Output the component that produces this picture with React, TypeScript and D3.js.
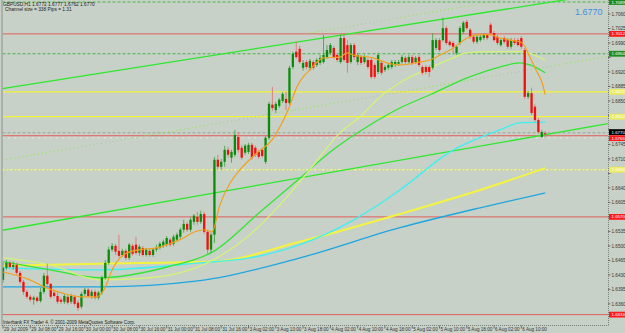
import React, { useEffect, useRef } from 'react';
import * as d3 from 'd3';

const W = 625;
const H = 333;

// GBPUSD H1 bars, [open, high, low, close]
const candles: number[][] = [
  [1.6418, 1.6459, 1.6411, 1.6447], [1.6447, 1.6466, 1.6442, 1.6459], [1.6459, 1.6464, 1.6445, 1.6449],
  [1.6449, 1.6462, 1.6442, 1.6454], [1.6454, 1.6459, 1.6430, 1.6435], [1.6435, 1.6440, 1.6408, 1.6413],
  [1.6413, 1.6418, 1.6382, 1.6389], [1.6389, 1.6394, 1.6372, 1.6377], [1.6377, 1.6382, 1.6365, 1.6370],
  [1.6370, 1.6379, 1.6358, 1.6375], [1.6375, 1.6379, 1.6363, 1.6367], [1.6367, 1.6399, 1.6363, 1.6389],
  [1.6389, 1.6435, 1.6384, 1.6428], [1.6428, 1.6457, 1.6404, 1.6408], [1.6408, 1.6411, 1.6372, 1.6377],
  [1.6387, 1.6394, 1.6375, 1.6379], [1.6379, 1.6389, 1.6360, 1.6365], [1.6370, 1.6375, 1.6360, 1.6365],
  [1.6365, 1.6384, 1.6360, 1.6379], [1.6377, 1.6382, 1.6358, 1.6363], [1.6365, 1.6384, 1.6360, 1.6379],
  [1.6377, 1.6382, 1.6355, 1.6360], [1.6363, 1.6370, 1.6343, 1.6350], [1.6353, 1.6389, 1.6348, 1.6384],
  [1.6384, 1.6399, 1.6379, 1.6394], [1.6394, 1.6399, 1.6375, 1.6379], [1.6379, 1.6394, 1.6372, 1.6389],
  [1.6389, 1.6394, 1.6370, 1.6375], [1.6375, 1.6391, 1.6370, 1.6387], [1.6387, 1.6428, 1.6382, 1.6423],
  [1.6423, 1.6466, 1.6418, 1.6459], [1.6459, 1.6498, 1.6454, 1.6491], [1.6491, 1.6507, 1.6486, 1.6500],
  [1.6500, 1.6505, 1.6478, 1.6486], [1.6488, 1.6527, 1.6471, 1.6476], [1.6478, 1.6493, 1.6474, 1.6488],
  [1.6488, 1.6493, 1.6466, 1.6471], [1.6471, 1.6507, 1.6466, 1.6503], [1.6500, 1.6505, 1.6476, 1.6481],
  [1.6503, 1.6522, 1.6478, 1.6483], [1.6483, 1.6503, 1.6476, 1.6498], [1.6495, 1.6500, 1.6474, 1.6478],
  [1.6478, 1.6495, 1.6474, 1.6491], [1.6488, 1.6493, 1.6474, 1.6478], [1.6478, 1.6495, 1.6474, 1.6491],
  [1.6491, 1.6503, 1.6486, 1.6495], [1.6495, 1.6510, 1.6491, 1.6505], [1.6500, 1.6515, 1.6495, 1.6510],
  [1.6503, 1.6524, 1.6498, 1.6519], [1.6515, 1.6519, 1.6498, 1.6503], [1.6505, 1.6527, 1.6500, 1.6522],
  [1.6515, 1.6532, 1.6510, 1.6527], [1.6522, 1.6544, 1.6517, 1.6539], [1.6539, 1.6563, 1.6532, 1.6553],
  [1.6553, 1.6558, 1.6534, 1.6539], [1.6539, 1.6568, 1.6534, 1.6563], [1.6558, 1.6577, 1.6551, 1.6573],
  [1.6570, 1.6582, 1.6551, 1.6558], [1.6558, 1.6585, 1.6553, 1.6577], [1.6577, 1.6582, 1.6529, 1.6534],
  [1.6534, 1.6539, 1.6481, 1.6491], [1.6491, 1.6532, 1.6483, 1.6527], [1.6527, 1.6715, 1.6507, 1.6708],
  [1.6708, 1.6720, 1.6684, 1.6691], [1.6691, 1.6710, 1.6684, 1.6703], [1.6703, 1.6742, 1.6691, 1.6732],
  [1.6732, 1.6739, 1.6713, 1.6720], [1.6713, 1.6732, 1.6701, 1.6727], [1.6720, 1.6780, 1.6715, 1.6768],
  [1.6763, 1.6775, 1.6725, 1.6732], [1.6737, 1.6744, 1.6708, 1.6713], [1.6725, 1.6746, 1.6720, 1.6742],
  [1.6727, 1.6749, 1.6722, 1.6744], [1.6744, 1.6749, 1.6708, 1.6713], [1.6737, 1.6742, 1.6715, 1.6720],
  [1.6727, 1.6732, 1.6710, 1.6715], [1.6732, 1.6737, 1.6713, 1.6717], [1.6703, 1.6766, 1.6698, 1.6761],
  [1.6761, 1.6848, 1.6756, 1.6843], [1.6841, 1.6884, 1.6826, 1.6833], [1.6828, 1.6848, 1.6821, 1.6843],
  [1.6838, 1.6857, 1.6833, 1.6853], [1.6850, 1.6872, 1.6845, 1.6867], [1.6855, 1.6872, 1.6828, 1.6845],
  [1.6845, 1.6935, 1.6841, 1.6930], [1.6932, 1.6969, 1.6927, 1.6964], [1.6969, 1.6993, 1.6952, 1.6956],
  [1.6976, 1.6983, 1.6940, 1.6944], [1.6930, 1.6949, 1.6923, 1.6942], [1.6944, 1.6949, 1.6927, 1.6932],
  [1.6930, 1.6952, 1.6923, 1.6947], [1.6944, 1.6949, 1.6925, 1.6930], [1.6937, 1.6954, 1.6932, 1.6949],
  [1.6942, 1.6961, 1.6937, 1.6954], [1.6944, 1.7010, 1.6940, 1.6961], [1.6956, 1.6985, 1.6952, 1.6973],
  [1.6966, 1.6990, 1.6961, 1.6985], [1.6978, 1.6983, 1.6952, 1.6956], [1.6961, 1.6966, 1.6944, 1.6949],
  [1.6944, 1.7010, 1.6940, 1.7002], [1.7002, 1.7014, 1.6944, 1.6949], [1.6985, 1.6997, 1.6918, 1.6942],
  [1.6944, 1.6990, 1.6940, 1.6985], [1.6985, 1.6990, 1.6949, 1.6956], [1.6944, 1.6966, 1.6937, 1.6961],
  [1.6956, 1.6961, 1.6937, 1.6942], [1.6944, 1.6961, 1.6940, 1.6956], [1.6949, 1.6954, 1.6927, 1.6932],
  [1.6949, 1.6956, 1.6903, 1.6908], [1.6937, 1.6942, 1.6903, 1.6908], [1.6920, 1.6966, 1.6915, 1.6961],
  [1.6942, 1.6947, 1.6913, 1.6918], [1.6925, 1.6937, 1.6920, 1.6932], [1.6930, 1.6942, 1.6925, 1.6937],
  [1.6932, 1.6949, 1.6927, 1.6944], [1.6937, 1.6949, 1.6932, 1.6944], [1.6940, 1.6949, 1.6935, 1.6944],
  [1.6944, 1.6961, 1.6940, 1.6956], [1.6954, 1.6959, 1.6940, 1.6944], [1.6944, 1.6961, 1.6940, 1.6956],
  [1.6956, 1.6961, 1.6937, 1.6942], [1.6944, 1.6959, 1.6940, 1.6954], [1.6956, 1.6961, 1.6932, 1.6937],
  [1.6932, 1.6937, 1.6913, 1.6918], [1.6932, 1.6937, 1.6915, 1.6920], [1.6932, 1.6937, 1.6908, 1.6920],
  [1.6930, 1.7014, 1.6925, 1.6997], [1.6978, 1.7002, 1.6973, 1.6997], [1.6997, 1.7002, 1.6969, 1.6973],
  [1.6997, 1.7051, 1.6993, 1.7026], [1.7026, 1.7031, 1.6985, 1.6990], [1.6993, 1.6997, 1.6981, 1.6985],
  [1.6990, 1.6995, 1.6966, 1.6981], [1.6966, 1.6985, 1.6961, 1.6981], [1.6990, 1.7031, 1.6985, 1.7026],
  [1.7017, 1.7043, 1.7012, 1.7039], [1.7041, 1.7046, 1.7022, 1.7026], [1.7022, 1.7026, 1.7000, 1.7005],
  [1.7005, 1.7010, 1.6988, 1.6993], [1.6993, 1.7010, 1.6988, 1.7005], [1.6997, 1.7010, 1.6993, 1.7005],
  [1.7002, 1.7014, 1.6997, 1.7010], [1.7010, 1.7014, 1.6997, 1.7002], [1.7034, 1.7039, 1.7010, 1.7014],
  [1.7014, 1.7019, 1.6993, 1.6997], [1.7005, 1.7010, 1.6985, 1.6990], [1.6985, 1.7002, 1.6981, 1.6997],
  [1.7002, 1.7007, 1.6988, 1.6993], [1.6997, 1.7002, 1.6976, 1.6981], [1.6981, 1.7002, 1.6976, 1.6997],
  [1.6997, 1.7002, 1.6985, 1.6990], [1.6997, 1.7002, 1.6981, 1.6985], [1.7002, 1.7007, 1.6976, 1.6981],
  [1.6973, 1.6978, 1.6855, 1.6860], [1.6860, 1.6874, 1.6855, 1.6869], [1.6869, 1.6882, 1.6816, 1.6821],
  [1.6836, 1.6841, 1.6799, 1.6804], [1.6804, 1.6809, 1.6771, 1.6775], [1.6763, 1.6780, 1.6761, 1.6775],
  [1.6772, 1.6777, 1.6762, 1.6770],
];

// time axis labels, one every 8 bars
const timeLabels = [
  '29 Jul 2009', '29 Jul 08:00', '29 Jul 16:00', '30 Jul 00:00', '30 Jul 08:00', '30 Jul 16:00',
  '31 Jul 00:00', '31 Jul 08:00', '31 Jul 16:00', '3 Aug 02:00', '3 Aug 10:00', '3 Aug 18:00',
  '4 Aug 02:00', '4 Aug 10:00', '4 Aug 18:00', '5 Aug 02:00', '5 Aug 10:00', '5 Aug 18:00',
  '6 Aug 02:00', '6 Aug 10:00',
];

const priceTicks = [
  1.7060, 1.7025, 1.6990, 1.6955, 1.6920, 1.6885, 1.6850, 1.6815, 1.6780, 1.6745, 1.6710,
  1.6675, 1.6640, 1.6605, 1.6570, 1.6535, 1.6500, 1.6465, 1.6430, 1.6395, 1.6360,
];

// moving averages, [bar, price]
const maOrange = [
  [0, 1.6437], [7.9, 1.6418], [12, 1.6401], [17, 1.6387], [22.9, 1.6377], [27.6, 1.6377], [29.6, 1.6394],
  [32.3, 1.6447], [34.3, 1.6471], [36.4, 1.6483], [40.2, 1.6491], [45.2, 1.6495], [48.1, 1.6503],
  [51.9, 1.6515], [56.3, 1.6534], [59.2, 1.6539], [61.3, 1.6534], [63.6, 1.6599], [66.6, 1.6652],
  [69.5, 1.6684], [74.5, 1.6725], [78.9, 1.6756], [81.2, 1.6787], [83.6, 1.6828], [86.2, 1.6884],
  [88, 1.6908], [90, 1.6925], [92.1, 1.6944], [93.8, 1.6954], [98.8, 1.6956], [100.9, 1.6966],
  [102.6, 1.6961], [108.5, 1.6954], [112.6, 1.6942], [116.4, 1.6937], [122.3, 1.6944], [125.2, 1.6949],
  [128.2, 1.6961], [131.1, 1.6973], [134, 1.6990], [136.1, 1.7002], [139.9, 1.7010], [142.8, 1.7010],
  [145.7, 1.7002], [148.7, 1.6997], [151.6, 1.6993], [153.1, 1.6981], [154.5, 1.6956], [156.6, 1.6920],
  [158.1, 1.6894], [159, 1.6865],
];
const maPale = [
  [0, 1.6471], [13.8, 1.6454], [28.4, 1.6418], [43.1, 1.6423], [61.6, 1.6466], [72.4, 1.6527],
  [81.2, 1.6599], [90, 1.6684], [98.8, 1.6773], [104.7, 1.6812], [110.6, 1.6860], [116.4, 1.6894],
  [125.2, 1.6930], [132, 1.6954], [136.1, 1.6966], [143.7, 1.6969], [151.6, 1.6969], [159, 1.6949],
];
const maGreen = [
  [0, 1.6462], [13.8, 1.6442], [28.4, 1.6423], [48.1, 1.6449], [61.6, 1.6486], [75.4, 1.6582],
  [87.1, 1.6664], [96.8, 1.6732], [107.6, 1.6792], [116.4, 1.6833], [125.2, 1.6865], [136.1, 1.6906],
  [145.7, 1.6932], [151.6, 1.6942], [154.5, 1.6937], [159, 1.6918],
];
const maCyan = [
  [0, 1.6447], [28.4, 1.6442], [57.8, 1.6459], [72.4, 1.6471], [87.1, 1.6503], [101.8, 1.6558],
  [116.4, 1.6635], [131.1, 1.6727], [145.7, 1.6780], [151.6, 1.6797], [159, 1.6799],
];
const maYellow = [
  [0, 1.6452], [28.4, 1.6457], [61.6, 1.6462], [87.1, 1.6510], [116.4, 1.6577], [139.9, 1.6635],
  [159, 1.6688],
];
const maBlue = [
  [0, 1.6401], [28.4, 1.6401], [57.8, 1.6416], [87.1, 1.6471], [116.4, 1.6544], [139.9, 1.6592],
  [159, 1.6628],
];

// channel lines, two anchors each [bar, price]
const channelUpper = [[0, 1.6880], [160, 1.7088]];
const channelMid = [[0, 1.6707], [160, 1.6933]];
const channelLower = [[0, 1.6538], [160, 1.6770]];
const upperRay = [[90, 1.7014], [146, 1.7093]];

// horizontal levels
const greenLevels = [1.7089, 1.6964];
const redLevels = [1.7012, 1.6766, 1.6570, 1.6334];
const yellowLevels = [1.6872, 1.6812];
const yellowDotted = [1.6684];
const whiteDotted = [1.6761];
const askLevel = 1.6773;
const bid = 1.6770;

const App = () => {
  const ref = useRef<SVGSVGElement | null>(null);

  useEffect(() => {
    document.body.style.margin = '0';
    const svg = d3.select(ref.current);
    svg.selectAll('*').remove();

    const left = 2.5;
    const right = 608;
    const top = 0;
    const bottom = 325.5;
    const font = "'Liberation Sans', Arial, sans-serif";

    const x = d3.scaleLinear().domain([0, candles.length - 1]).range([3, 545.2]);
    const y = d3.scaleLinear().domain([1.6321, 1.7089]).range([320, 2]);
    const fmt = d3.format('.4f');

    svg.append('rect').attr('width', W).attr('height', H).attr('fill', '#c8d1c8');

    svg.append('defs').append('clipPath').attr('id', 'plot')
      .append('rect').attr('x', left).attr('y', top).attr('width', right - left).attr('height', bottom - top);

    const g = svg.append('g').attr('clip-path', 'url(#plot)');

    // horizontal levels
    const hline = (p: number, color: string, width: number, dash?: string) => {
      g.append('line')
        .attr('x1', left).attr('x2', right)
        .attr('y1', y(p)).attr('y2', y(p))
        .attr('stroke', color).attr('stroke-width', width)
        .attr('stroke-dasharray', dash || null);
    };
    greenLevels.forEach(p => hline(p, '#46b446', 1, '3,2'));
    redLevels.forEach(p => hline(p, '#e0605a', 1));
    yellowLevels.forEach(p => hline(p, '#f2f23a', 1.2));
    yellowDotted.forEach(p => {
      hline(p, '#f0f050', 1.4, '2,2');
      hline(p, '#ffffff', 1.2, '1,7');
    });
    whiteDotted.forEach(p => hline(p, '#ffffff', 1, '1,5'));
    hline(askLevel, '#9aa29a', 1, '3,2');

    // channel lines as rays across the plot
    const ray = (pts: number[][], color: string, width: number, dash: string | null, fromStart: boolean) => {
      const slope = (pts[1][1] - pts[0][1]) / (pts[1][0] - pts[0][0]);
      const b0 = fromStart ? x.invert(left) : pts[0][0];
      const b1 = x.invert(right);
      g.append('line')
        .attr('x1', x(b0)).attr('y1', y(pts[0][1] + slope * (b0 - pts[0][0])))
        .attr('x2', x(b1)).attr('y2', y(pts[0][1] + slope * (b1 - pts[0][0])))
        .attr('stroke', color).attr('stroke-width', width)
        .attr('stroke-dasharray', dash);
    };
    ray(channelMid, '#8fe05a', 1, '1,3', true);
    ray(upperRay, '#8fe05a', 1, '1,3', false);
    ray(channelUpper, '#2ee82e', 1.3, null, true);
    ray(channelLower, '#2ee82e', 1.3, null, true);

    // moving averages
    const line = d3.line<number[]>()
      .x(d => x(d[0]))
      .y(d => y(d[1]))
      .curve(d3.curveMonotoneX);
    const ma = (data: number[][], color: string, width: number) => {
      g.append('path').datum(data)
        .attr('d', line)
        .attr('fill', 'none')
        .attr('stroke', color)
        .attr('stroke-width', width);
    };
    ma(maBlue, '#1ea6e0', 1.3);
    ma(maYellow, '#f4f440', 2);
    ma(maCyan, '#3ff0f0', 1.4);
    ma(maGreen, '#32e632', 1.3);
    ma(maPale, '#d4f27a', 1.3);

    // candles
    const bw = 2.3;
    const bars = g.append('g');
    candles.forEach((c, i) => {
      const [o, h, l, cl] = c;
      const up = cl >= o;
      const color = up ? '#0a8c0a' : '#f01010';
      bars.append('line')
        .attr('x1', x(i)).attr('x2', x(i))
        .attr('y1', y(h)).attr('y2', y(l))
        .attr('stroke', up ? '#3c9e3c' : '#e46a6a')
        .attr('stroke-width', 0.8);
      const yt = y(Math.max(o, cl));
      const yb = y(Math.min(o, cl));
      bars.append('rect')
        .attr('x', x(i) - bw / 2)
        .attr('y', yt)
        .attr('width', bw)
        .attr('height', Math.max(1, yb - yt))
        .attr('fill', color);
    });

    ma(maOrange, '#f0a020', 1.2);

    // borders
    svg.append('line').attr('x1', 2).attr('x2', 2).attr('y1', 0).attr('y2', bottom)
      .attr('stroke', '#8a908a').attr('stroke-width', 1);
    svg.append('line').attr('x1', right + 0.5).attr('x2', right + 0.5).attr('y1', 0).attr('y2', bottom)
      .attr('stroke', '#7a807a').attr('stroke-width', 1).attr('stroke-dasharray', '1,1');
    svg.append('line').attr('x1', 2).attr('x2', right + 0.5).attr('y1', bottom).attr('y2', bottom)
      .attr('stroke', '#7a807a').attr('stroke-width', 1).attr('stroke-dasharray', '1,1');

    // price tags sit over the axis labels, so find where they go first
    const tagList: [number, string, number][] = [];
    greenLevels.forEach(p => tagList.push([p, '#1e8c1e', 0]));
    yellowLevels.forEach(p => tagList.push([p, '#ecec60', 0]));
    yellowDotted.forEach(p => tagList.push([p, '#ecec60', 0]));
    redLevels.forEach((p, k) => tagList.push([p, '#ff1a1a', k === 1 ? 2.4 : 0]));
    tagList.push([bid, '#000000', -2]);
    const tagYs = tagList.map(t => y(t[0]) + t[2]);

    // price axis
    priceTicks.forEach(p => {
      svg.append('line').attr('x1', right).attr('x2', right + 2.5)
        .attr('y1', y(p)).attr('y2', y(p)).attr('stroke', '#555').attr('stroke-width', 0.8);
      if (tagYs.some(ty => Math.abs(ty - y(p)) < 5)) return;
      svg.append('text').attr('x', right + 3.5).attr('y', y(p) + 1.8)
        .attr('font-family', font).attr('font-size', 4.6).attr('fill', '#333')
        .text(fmt(p));
    });

    tagList.forEach(([p, bg, dy]) => {
      const ty = y(p) + dy;
      svg.append('rect').attr('x', right + 1).attr('y', ty - 2.9)
        .attr('width', W - right - 1).attr('height', 5.8).attr('fill', bg);
      svg.append('text').attr('x', right + 3.5).attr('y', ty + 1.6)
        .attr('font-family', font).attr('font-size', 4.4).attr('fill', '#ffffff')
        .text(fmt(p));
    });

    // time axis
    timeLabels.forEach((t, k) => {
      const xi = x(k * 8);
      svg.append('line').attr('x1', xi).attr('x2', xi).attr('y1', bottom).attr('y2', bottom + 3)
        .attr('stroke', '#555').attr('stroke-width', 0.8);
      svg.append('text').attr('x', xi + 1).attr('y', 331)
        .attr('font-family', font).attr('font-size', 4.6).attr('fill', '#333')
        .text(t);
    });

    // texts
    svg.append('text').attr('x', 3).attr('y', 6)
      .attr('font-family', font).attr('font-size', 4.8).attr('fill', '#222')
      .text('GBPUSD,H1  1.6772 1.6777 1.6762 1.6770');
    svg.append('text').attr('x', 5).attr('y', 11)
      .attr('font-family', font).attr('font-size', 4.8).attr('fill', '#222')
      .text('Channel size = 338 Pips = 1.31');
    svg.append('text').attr('x', 3).attr('y', 324)
      .attr('font-family', font).attr('font-size', 4.6).attr('fill', '#222')
      .text('Interbank FX Trader 4, © 2001-2009 MetaQuotes Software Corp.');
    svg.append('text').attr('x', 575).attr('y', 15)
      .attr('font-family', font).attr('font-size', 9).attr('fill', '#3c8fe6')
      .text(fmt(bid));
  }, []);

  return <svg ref={ref} width={W} height={H} style={{ display: 'block' }} />;
};

export default App;
